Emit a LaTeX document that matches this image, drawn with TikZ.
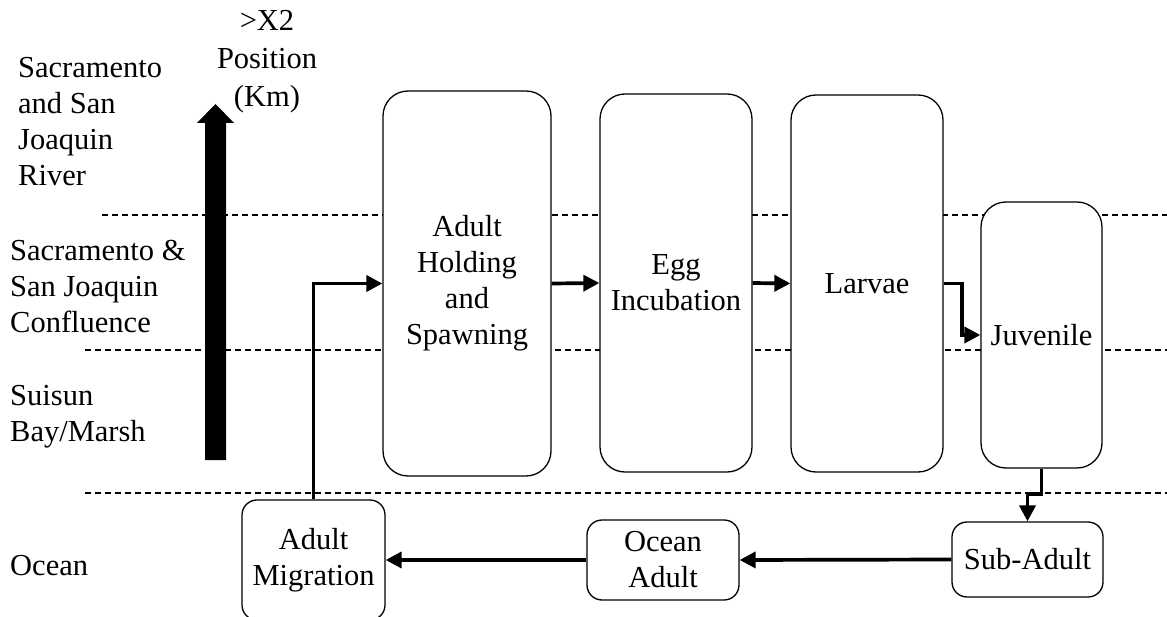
\documentclass[tikz,border=0pt]{standalone}
\usepackage{fontspec}
\setmainfont{Liberation Serif}
\usetikzlibrary{arrows.meta}

\tikzset{
  lbl/.style={inner sep=0pt, align=left, anchor=north west,
    font=\fontsize{30.5}{36}\selectfont},
  stage/.style={draw, fill=white, line width=1.3pt, rounded corners=25pt,
    align=center, inner sep=2pt, font=\fontsize{30.5}{36}\selectfont},
  smallstage/.style={stage, rounded corners=15pt},
  zone/.style={line width=1.1pt, dash pattern=on 6pt off 4pt},
  flow/.style={line width=3.7pt, -{Triangle[length=16pt,width=16pt]}},
}

\begin{document}
\begin{tikzpicture}[x=1pt, y=-1pt]
  \path[use as bounding box, clip] (0,0) rectangle (1167,617);

  % zone boundaries
  \coordinate (z1a) at (102,215); \coordinate (z1b) at (1167,215);
  \coordinate (z2a) at (85,350);  \coordinate (z2b) at (1167,350);
  \coordinate (z3a) at (85,493);  \coordinate (z3b) at (1167,493);
  \draw[zone] (z1a) -- (z1b);
  \draw[zone] (z2a) -- (z2b);
  \draw[zone] (z3a) -- (z3b);

  % zone names
  \node[lbl] (river) at (18,57) {Sacramento\\and San\\Joaquin\\River};
  \node[lbl] (confl) at (10,240) {Sacramento \&\\San Joaquin\\Confluence};
  \node[lbl] (suisun) at (10,385) {Suisun\\Bay/Marsh};
  \node[lbl] (ocean) at (10,555) {Ocean};

  % X2 axis arrow
  \fill (205,460) -- (205,123) -- (197,123) -- (215.5,104) -- (234,123)
        -- (226,123) -- (226,460) -- cycle;
  \node[lbl, anchor=north, align=center, font=\fontsize{30.5}{38}\selectfont]
    (x2) at (267,10) {>X2\\Position\\(Km)};

  % life stages
  \node[stage, minimum width=168pt, minimum height=385pt] (hold) at (467,283.5)
    {Adult\\Holding\\and\\Spawning};
  \node[stage, minimum width=152pt, minimum height=378pt] (egg) at (676,283)
    {Egg\\Incubation};
  \node[stage, minimum width=152pt, minimum height=377pt] (larv) at (867,283.5)
    {Larvae};
  \node[stage, minimum width=121pt, minimum height=266pt] (juv) at (1041.5,335)
    {Juvenile};
  \node[smallstage, minimum width=151pt, minimum height=75pt] (sub) at (1027.5,559.5)
    {Sub-Adult};
  \node[smallstage, minimum width=152pt, minimum height=80pt] (oad) at (663,560)
    {Ocean\\Adult};
  \node[smallstage, minimum width=143pt, minimum height=120pt] (mig) at (313.5,560)
    {Adult\\Migration};

  % transitions
  \coordinate (lbend) at (962,283.5);
  \coordinate (jbend) at (1041.5,494);
  \draw[flow] (mig.north) |- (hold.west);
  \draw[flow] (hold.east) -- (egg.west);
  \draw[flow] (egg.east) -- (larv.west);
  \draw[flow] (larv.east) -- (lbend) |- (juv.west);
  \draw[flow] (juv.south) -- (jbend) -| (sub.north);
  \draw[flow] (sub.west) -- (oad.east);
  \draw[flow] (oad.west) -- (mig.east);
\end{tikzpicture}
\end{document}
